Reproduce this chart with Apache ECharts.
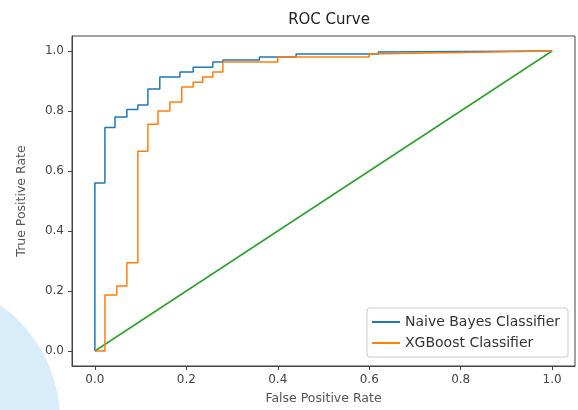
<!DOCTYPE html>
<html>
<head>
<meta charset="utf-8">
<script src="https://cdn.jsdelivr.net/npm/echarts@6/dist/echarts.min.js"></script>
<style>
  html, body { margin: 0; padding: 0; background: #fff; }
  #chart { width: 578px; height: 410px; }
</style>
</head>
<body>
<div id="chart"></div>
<script>
// ROC points (corners of the steps included)
var nbFpr = [0, 0, 0.022, 0.022, 0.044, 0.044, 0.07, 0.07, 0.094, 0.094, 0.116, 0.116, 0.142, 0.142, 0.186, 0.186, 0.215, 0.215, 0.258, 0.258, 0.28, 0.28, 0.36, 0.36, 0.44, 0.44, 0.62, 0.62, 1.0];
var nbTpr = [0, 0.56, 0.56, 0.745, 0.745, 0.78, 0.78, 0.805, 0.805, 0.82, 0.82, 0.873, 0.873, 0.913, 0.913, 0.93, 0.93, 0.946, 0.946, 0.963, 0.963, 0.97, 0.97, 0.98, 0.98, 0.99, 0.99, 0.997, 1.0];

var xgbFpr = [0, 0.022, 0.022, 0.048, 0.048, 0.07, 0.07, 0.094, 0.094, 0.116, 0.116, 0.138, 0.138, 0.164, 0.164, 0.19, 0.19, 0.215, 0.215, 0.236, 0.236, 0.258, 0.258, 0.28, 0.28, 0.4, 0.4, 0.6, 0.6, 1.0];
var xgbTpr = [0, 0, 0.187, 0.187, 0.217, 0.217, 0.294, 0.294, 0.666, 0.666, 0.756, 0.756, 0.8, 0.8, 0.83, 0.83, 0.88, 0.88, 0.896, 0.896, 0.913, 0.913, 0.93, 0.93, 0.963, 0.963, 0.98, 0.98, 0.99, 1.0];

var diagX = [0, 1];
var diagY = [0, 1];

var tickValues = [0, 0.2, 0.4, 0.6, 0.8, 1.0];
var seriesNames = ['Naive Bayes Classifier', 'XGBoost Classifier'];

function pairs(xs, ys) {
    var out = [];
    for (var i = 0; i < xs.length; i++) out.push([xs[i], ys[i]]);
    return out;
}

var font = 'DejaVu Sans';
var myChart = echarts.init(document.getElementById('chart'));

var axisCommon = {
    type: 'value',
    min: -0.05,
    max: 1.05,
    splitLine: { show: false },
    axisLine: { show: true, onZero: false, lineStyle: { color: '#444', width: 1 } },
    axisTick: { show: true, customValues: tickValues, length: 4, lineStyle: { color: '#444' } },
    axisLabel: {
        customValues: tickValues,
        formatter: function (v) { return v.toFixed(1); },
        color: '#444', fontSize: 12, fontFamily: font
    },
    nameLocation: 'middle',
    nameTextStyle: { color: '#555', fontSize: 12.5, fontFamily: font }
};

var option = {
    animation: false,
    backgroundColor: '#fff',
    // pale blue blob from the page behind the screenshot
    graphic: [{
        type: 'circle',
        shape: { cx: -80, cy: 420, r: 140 },
        style: { fill: '#d9ecfa' },
        z: -10
    }],
    title: {
        text: 'ROC Curve',
        left: 324,
        top: 8,
        textAlign: 'center',
        textStyle: { fontSize: 15, fontWeight: 'normal', color: '#222', fontFamily: font }
    },
    grid: {
        left: 72, right: 3, top: 36, bottom: 43,
        show: true, borderColor: '#444', borderWidth: 1, backgroundColor: 'transparent'
    },
    legend: {
        data: seriesNames,
        orient: 'vertical',
        right: 10,
        bottom: 53,
        itemWidth: 28,
        itemHeight: 2,
        itemGap: 7,
        padding: [7, 8, 7, 5],
        borderColor: '#ccc',
        borderWidth: 1,
        borderRadius: 3,
        backgroundColor: '#fff',
        icon: 'rect',
        textStyle: { fontSize: 14, color: '#333', fontFamily: font }
    },
    xAxis: Object.assign({}, axisCommon, { name: 'False Positive Rate', nameGap: 26 }),
    yAxis: Object.assign({}, axisCommon, { name: 'True Positive Rate', nameGap: 44 }),
    series: [
        {
            name: seriesNames[0],
            type: 'line',
            data: pairs(nbFpr, nbTpr),
            showSymbol: false,
            color: '#1f77b4',
            lineStyle: { width: 1.5 },
            z: 3
        },
        {
            name: seriesNames[1],
            type: 'line',
            data: pairs(xgbFpr, xgbTpr),
            showSymbol: false,
            color: '#ff7f0e',
            lineStyle: { width: 1.5 },
            z: 4
        },
        {
            name: 'diagonal',
            type: 'line',
            data: pairs(diagX, diagY),
            showSymbol: false,
            color: '#2ca02c',
            lineStyle: { width: 1.5 },
            z: 2
        }
    ]
};
myChart.setOption(option);
</script>
</body>
</html>
